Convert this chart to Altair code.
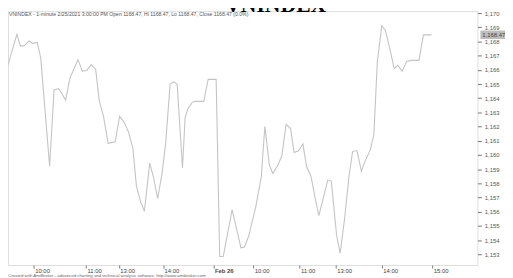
import altair as alt
import pandas as pd

# bar index (1-minute bars, two sessions) and VNINDEX value
bars = [0, 10, 14, 18, 24, 28, 33, 37, 47, 52,
        57, 60, 65, 70, 79, 84, 89, 94, 99, 103,
        108, 113, 121, 126, 131, 136, 141, 145, 150, 154,
        160, 164, 169, 174, 178, 183, 187, 191, 197, 200, 203,
        208, 211, 221, 226, 235, 239, 243, 253, 263, 267,
        272, 280, 286, 290, 295, 299, 304, 309, 314, 319,
        323, 328, 333, 337, 342, 347, 351, 361, 365, 371,
        375, 380, 385, 389, 394, 399, 403, 409, 413, 417,
        422, 426, 431, 436, 440, 445, 450, 455, 464, 469,
        478]
values = [1166.37, 1168.50, 1167.69, 1167.69, 1168.04, 1167.87, 1167.94, 1166.83, 1159.20, 1164.59,
          1164.68, 1164.40, 1163.87, 1165.44, 1166.72, 1165.91, 1165.96, 1166.37, 1166.03, 1163.83,
          1162.67, 1160.82, 1160.93, 1162.72, 1162.32, 1161.63, 1160.47, 1157.81, 1156.66, 1156.03,
          1159.43, 1158.50, 1156.93, 1158.74, 1160.82, 1164.98, 1165.17, 1164.98, 1159.08, 1162.67, 1163.25,
          1163.71, 1163.78, 1163.78, 1165.33, 1165.33, 1152.84, 1152.84, 1156.14, 1153.46, 1153.51,
          1154.34, 1156.42, 1158.50, 1162.02, 1159.32, 1158.69, 1159.20, 1159.89, 1162.16, 1161.86,
          1160.17, 1160.29, 1160.77, 1159.20, 1158.50, 1156.89, 1155.73, 1158.23, 1158.16, 1154.34,
          1153.07, 1155.50, 1158.50, 1160.24, 1160.31, 1158.85, 1159.55, 1160.36, 1161.40, 1166.60,
          1169.10, 1168.80, 1167.52, 1166.10, 1166.32, 1165.91, 1166.60, 1166.67, 1166.67, 1168.47,
          1168.47]

tick_bars = [29, 88, 125, 175, 232, 277, 329, 370, 422, 479]
tick_labels = ["10:00", "11:00", "13:00", "14:00", "Feb 26",
               "10:00", "11:00", "13:00", "14:00", "15:00"]
y_ticks = list(range(1153, 1171))
last_close = 1168.47

title_text = "VNINDEX"
header_text = ("VNINDEX - 1-minute 2/25/2021 3:00:00 PM Open 1168.47, Hi 1168.47, "
               "Lo 1168.47, Close 1168.47 (0.0%)")
credit_text = ("Created with AmiBroker - advanced charting and technical analysis "
               "software. http://www.amibroker.com")

df = pd.DataFrame({"bar": bars, "value": values})

label_expr = ""
for b, l in zip(tick_bars, tick_labels):
    label_expr += f"datum.value == {b} ? '{l}' : "
label_expr += "''"

W, H = 477, 258
xs = alt.Scale(domain=[0, 530], nice=False, zero=False)
ys = alt.Scale(domain=[1152.24, 1170.14], nice=False, zero=False)

y_axis = alt.Axis(orient="right", values=y_ticks, format=",d", grid=False,
                  domain=False, tickSize=4, tickColor="#777777", title=None,
                  labelPadding=3, labelFont="Liberation Sans", labelFontSize=6,
                  labelColor="#555555", labelFlush=False, labelOverlap=False)

line = alt.Chart(df).mark_line(color="#c4c4c4", strokeWidth=1.1).encode(
    x=alt.X("bar:Q", scale=xs, title=None,
            axis=alt.Axis(values=tick_bars, labelExpr=label_expr, grid=False,
                          domain=False, tickSize=3, tickColor="#777777",
                          labelAlign="left", labelBaseline="top", labelPadding=0,
                          labelOffset=1, labelFont="Liberation Sans", labelFontSize=6,
                          labelColor="#444444", labelFlush=False, labelOverlap=False,
                          labelFontWeight={"condition": {"test": "datum.value == 232", "value": "bold"},
                                           "value": "normal"})),
    y=alt.Y("value:Q", scale=ys, title=None, axis=y_axis),
)

box_df = pd.DataFrame({"v": [last_close], "lo": [last_close - 0.3], "hi": [last_close + 0.3],
                       "t": ["1,168.47"]})
box = alt.Chart(box_df).mark_rect(color="#bdbdbd").encode(
    x=alt.value(W + 3), x2=alt.value(W + 28),
    y=alt.Y("lo:Q", scale=ys, title=None, axis=y_axis), y2="hi:Q")
box_text = alt.Chart(box_df).mark_text(align="left", baseline="middle", fontSize=6,
                                       font="Liberation Sans", color="#444444").encode(
    x=alt.value(W + 5), y=alt.Y("v:Q", scale=ys, title=None, axis=y_axis), text="t:N")

hdr_df = pd.DataFrame({"t": [header_text]})
header = alt.Chart(hdr_df).mark_text(align="left", baseline="middle", fontSize=5.2,
                                     font="Liberation Sans", color="#555555").encode(
    x=alt.value(1), y=alt.value(2.5), text="t:N")

ttl_df = pd.DataFrame({"t": [title_text]})
title = alt.Chart(ttl_df).mark_text(align="center", baseline="alphabetic", fontSize=22,
                                    fontWeight="bold", font="Liberation Serif",
                                    color="#000000").encode(
    x=alt.value(272), y=alt.value(1), text="t:N")

cr_df = pd.DataFrame({"t": [credit_text]})
credit = alt.Chart(cr_df).mark_text(align="left", baseline="middle", fontSize=4.4,
                                    font="Liberation Sans", color="#666666").encode(
    x=alt.value(0), y=alt.value(H + 11), text="t:N")

chart = alt.layer(line, box, box_text, header, title, credit).properties(
    width=W, height=H,
    autosize=alt.AutoSizeParams(type="none"),
    padding={"left": 0, "top": 1, "right": 28, "bottom": 14},
).configure_view(stroke="#8a8a8a", strokeWidth=1).configure(background="white")

chart.save("out.html", embed_options={"renderer": "svg", "actions": False})
